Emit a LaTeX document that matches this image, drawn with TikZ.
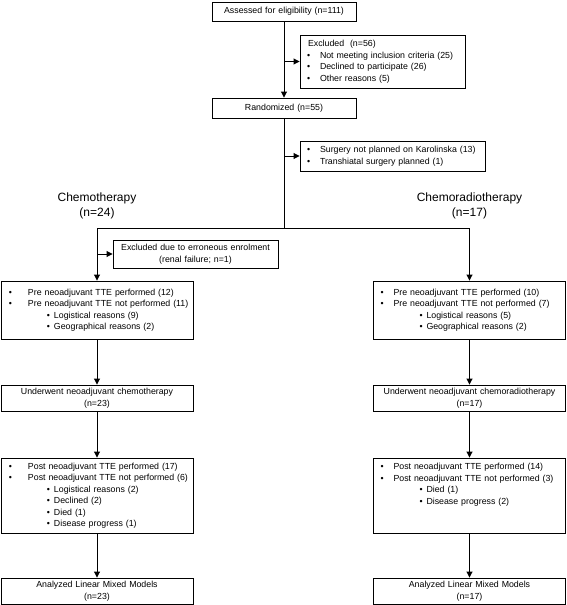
\documentclass[tikz,border=0pt]{standalone}
\usepackage{fontspec}
\setmainfont{Liberation Sans}
\usetikzlibrary{arrows.meta,positioning}

\newcommand{\bitem}[1]{\makebox[27pt][l]{\hspace*{8pt}\textbullet}#1}
\newcommand{\xitem}[1]{\makebox[20pt][l]{\hspace*{7pt}\textbullet}#1}
\newcommand{\sitem}[1]{\makebox[53pt][l]{\hspace*{46pt}\textbullet}#1}

\begin{document}
\begin{tikzpicture}[x=1pt,y=-1pt,on grid,
    >={Triangle[length=6pt,width=6pt]},
    box/.style={draw,line width=0.9pt,inner xsep=0pt,inner ysep=2pt,
      font=\fontsize{8.8}{11.5}\selectfont},
    lbox/.style={box,align=left,text width=#1},
    cbox/.style={box,align=center,text width=#1},
    grp/.style={align=center,font=\fontsize{12}{14.5}\selectfont}]
\useasboundingbox (0,0) rectangle (567,605);
% top of the chart
  \node[cbox=144pt,minimum height=19pt]  (assess)  at (284,11.5)  {Assessed for eligibility (n=111)};
  \node[lbox=165pt,minimum height=53pt]  (excl)  [below right=50pt and 98.5pt of assess]
    {\hspace*{8pt}Excluded\ \ (n=56)\\
     \xitem{Not meeting inclusion criteria (25)}\\
     \xitem{Declined to participate (26)}\\
     \xitem{Other reasons (5)}};
  \node[cbox=144pt,minimum height=20pt]  (rand)  [below=96.5pt of assess]  {Randomized (n=55)};
  \node[lbox=185pt,minimum height=30pt]  (surg)  [below right=48pt and 108.5pt of rand]
    {\xitem{Surgery not planned on Karolinska (13)}\\
     \xitem{Transhiatal surgery planned (1)}};
  \coordinate[below=120pt of rand]  (split);

% the two arms
  \node[grp]  (chemo)  [below left=98pt and 187pt of rand]   {Chemotherapy\\(n=24)};
  \node[grp]  (crt)    [below right=98pt and 185.5pt of rand]  {Chemoradiotherapy\\(n=17)};
  \node[cbox=165pt,minimum height=28pt]  (err)  [below right=48pt and 98.5pt of chemo]
    {Excluded due to erroneous enrolment\\(renal failure; n=1)};

  \node[lbox=192pt,minimum height=58pt]  (preL)  [below=104pt of chemo]
    {\bitem{Pre neoadjuvant TTE performed (12)}\\
     \bitem{Pre neoadjuvant TTE not performed (11)}\\
     \sitem{Logistical reasons (9)}\\
     \sitem{Geographical reasons (2)}};
  \node[lbox=192pt,minimum height=58pt]  (preR)  [below=104pt of crt]
    {\xitem{Pre neoadjuvant TTE performed (10)}\\
     \xitem{Pre neoadjuvant TTE not performed (7)}\\
     \sitem{Logistical reasons (5)}\\
     \sitem{Geographical reasons (2)}};

  \node[cbox=192pt,minimum height=26pt]  (undL)  [below=88pt of preL]
    {Underwent neoadjuvant chemotherapy\\(n=23)};
  \node[cbox=192pt,minimum height=26pt]  (undR)  [below=88pt of preR]
    {Underwent neoadjuvant chemoradiotherapy\\(n=17)};

  \node[lbox=192pt,minimum height=75pt]  (postL)  [below=97.5pt of undL]
    {\bitem{Post neoadjuvant TTE performed (17)}\\
     \bitem{Post neoadjuvant TTE not performed (6)}\\
     \sitem{Logistical reasons (2)}\\
     \sitem{Declined (2)}\\
     \sitem{Died (1)}\\
     \sitem{Disease progress (1)}};
  \node[lbox=192pt,minimum height=75pt]  (postR)  [below=97.5pt of undR]
    {\xitem{Post neoadjuvant TTE performed (14)}\\
     \xitem{Post neoadjuvant TTE not performed (3)}\\
     \sitem{Died (1)}\\
     \sitem{Disease progress (2)}\\
     \mbox{}\\
     \mbox{}};

  \node[cbox=192pt,minimum height=26pt]  (anaL)  [below=95.5pt of postL]
    {Analyzed Linear Mixed Models\\(n=23)};
  \node[cbox=192pt,minimum height=26pt]  (anaR)  [below=95.5pt of postR]
    {Analyzed Linear Mixed Models\\(n=17)};

% connectors
  \draw[line width=0.9pt]  (rand) -- (split)
    (chemo |- split) -- (crt |- split);
  \path[->,line width=0.9pt]
    (assess)            edge  (rand)
    (assess |- excl)    edge  (excl)
    (rand |- surg)      edge  (surg)
    (chemo |- split)    edge  (preL)
    (crt |- split)      edge  (preR)
    (preL |- err)       edge  (err)
    (preL)   edge  (undL)
    (preR)   edge  (undR)
    (undL)   edge  (postL)
    (undR)   edge  (postR)
    (postL)  edge  (anaL)
    (postR)  edge  (anaR);
\end{tikzpicture}
\end{document}
